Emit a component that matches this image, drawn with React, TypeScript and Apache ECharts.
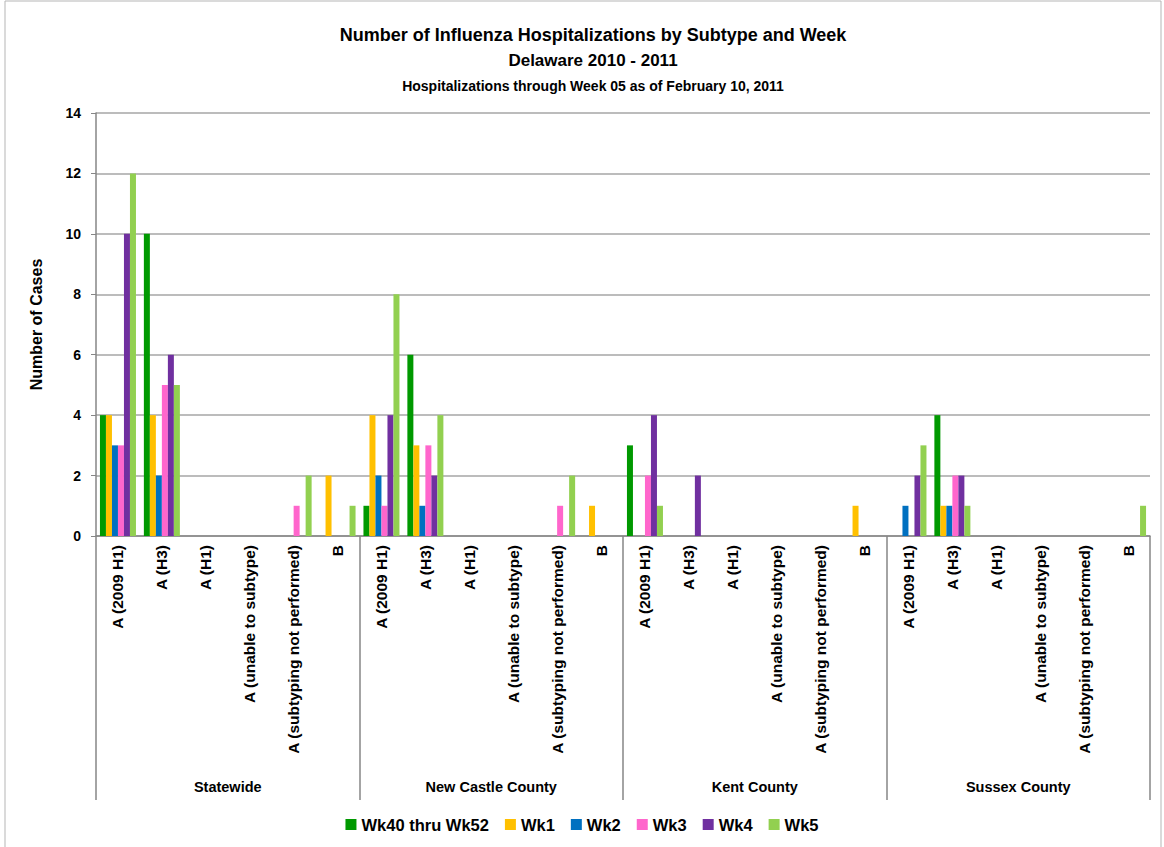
import React, { useEffect, useRef } from "react";
import * as echarts from "echarts";

const groups = ["Statewide", "New Castle County", "Kent County", "Sussex County"];
const subtypes = [
  "A (2009 H1)",
  "A (H3)",
  "A (H1)",
  "A (unable to subtype)",
  "A (subtyping not performed)",
  "B",
];
const seriesNames = ["Wk40 thru Wk52", "Wk1", "Wk2", "Wk3", "Wk4", "Wk5"];
const colors = ["#009900", "#FFC000", "#0070C0", "#FF66CC", "#7030A0", "#92D050"];

// values per group: [Statewide, New Castle, Kent, Sussex], each over the 6 subtypes
const wk40to52 = [
  [4, 10, 0, 0, 0, 0],
  [1, 6, 0, 0, 0, 0],
  [3, 0, 0, 0, 0, 0],
  [0, 4, 0, 0, 0, 0],
];
const wk1 = [
  [4, 4, 0, 0, 0, 2],
  [4, 3, 0, 0, 0, 1],
  [0, 0, 0, 0, 0, 1],
  [0, 1, 0, 0, 0, 0],
];
const wk2 = [
  [3, 2, 0, 0, 0, 0],
  [2, 1, 0, 0, 0, 0],
  [0, 0, 0, 0, 0, 0],
  [1, 1, 0, 0, 0, 0],
];
const wk3 = [
  [3, 5, 0, 0, 1, 0],
  [1, 3, 0, 0, 1, 0],
  [2, 0, 0, 0, 0, 0],
  [0, 2, 0, 0, 0, 0],
];
const wk4 = [
  [10, 6, 0, 0, 0, 0],
  [4, 2, 0, 0, 0, 0],
  [4, 2, 0, 0, 0, 0],
  [2, 2, 0, 0, 0, 0],
];
const wk5 = [
  [12, 5, 0, 0, 2, 1],
  [8, 4, 0, 0, 2, 0],
  [1, 0, 0, 0, 0, 0],
  [3, 1, 0, 0, 0, 1],
];
const yTicks = { min: 0, max: 14, interval: 2 };

const FONT = "'Liberation Sans', Arial, sans-serif";

export default function App() {
  const ref = useRef<HTMLDivElement>(null);
  useEffect(() => {
    document.body.style.margin = "0";
    if (!ref.current) return;
    const chart = echarts.init(ref.current, null, { renderer: "svg" });
    const cats: string[] = [];
    groups.forEach(() => subtypes.forEach((s) => cats.push(s)));
    const all = [wk40to52, wk1, wk2, wk3, wk4, wk5];
    const series = all.map((d, i) => ({
      name: seriesNames[i],
      type: "bar",
      xAxisIndex: 0,
      data: d.flat(),
      itemStyle: { color: colors[i] },
      barGap: "0%",
      barCategoryGap: "18%",
    }));
    chart.setOption({
      animation: false,
      textStyle: { fontFamily: FONT },
      title: [
        {
          text: "Number of Influenza Hospitalizations by Subtype and Week",
          left: 588,
          textAlign: "center",
          top: 21,
          textStyle: { fontSize: 18, fontWeight: "bold", color: "#000", fontFamily: FONT },
        },
        {
          text: "Delaware 2010 - 2011",
          left: 588,
          textAlign: "center",
          top: 47,
          textStyle: { fontSize: 17, fontWeight: "bold", color: "#000", fontFamily: FONT },
        },
        {
          text: "Hospitalizations through Week 05 as of February 10, 2011",
          left: 588,
          textAlign: "center",
          top: 74,
          textStyle: { fontSize: 14, fontWeight: "bold", color: "#000", fontFamily: FONT },
        },
      ],
      legend: {
        bottom: 9,
        left: "center",
        itemWidth: 11,
        itemHeight: 11,
        itemGap: 16,
        icon: "rect",
        textStyle: { fontSize: 16.5, fontWeight: "bold", color: "#000", fontFamily: FONT },
        data: seriesNames,
      },
      graphic: [
        {
          type: "rect",
          shape: { x: 5, y: 1, width: 1156, height: 860 },
          style: { fill: "none", stroke: "#b5b5b5", lineWidth: 1 },
          silent: true,
        },
      ],
      grid: { left: 96, right: 14, top: 113, bottom: 311, containLabel: false },
      xAxis: [
        {
          type: "category",
          data: cats,
          axisLine: { show: true, lineStyle: { color: "#868686", width: 1.5 } },
          axisTick: { show: false },
          axisLabel: {
            interval: 0,
            rotate: 90,
            margin: 9,
            fontSize: 15.5,
            fontWeight: "bold",
            color: "#000",
            fontFamily: FONT,
          },
        },
        {
          type: "category",
          data: groups,
          position: "bottom",
          axisLine: { show: false },
          axisTick: { show: true, length: 264, interval: 0, lineStyle: { color: "#868686", width: 1.5 } },
          axisLabel: {
            interval: 0,
            margin: 243,
            fontSize: 14.5,
            fontWeight: "bold",
            color: "#000",
            fontFamily: FONT,
          },
          splitLine: { show: false },
        },
      ],
      yAxis: {
        type: "value",
        min: yTicks.min,
        max: yTicks.max,
        interval: yTicks.interval,
        name: "Number of Cases",
        nameLocation: "middle",
        nameGap: 52,
        nameRotate: 90,
        nameTextStyle: { fontSize: 16, fontWeight: "bold", color: "#000", fontFamily: FONT },
        axisLine: { show: true, lineStyle: { color: "#868686", width: 1.5 } },
        axisTick: { show: true, length: 5, lineStyle: { color: "#868686" } },
        axisLabel: { margin: 15, fontSize: 14, fontWeight: "bold", color: "#000", fontFamily: FONT },
        splitLine: { show: true, lineStyle: { color: "#a6a6a6", width: 1.5 } },
      },
      series,
    });
    return () => chart.dispose();
  }, []);
  return (
    <div
      ref={ref}
      style={{ position: "absolute", left: 0, top: 0, width: 1164, height: 847 }}
    />
  );
}
